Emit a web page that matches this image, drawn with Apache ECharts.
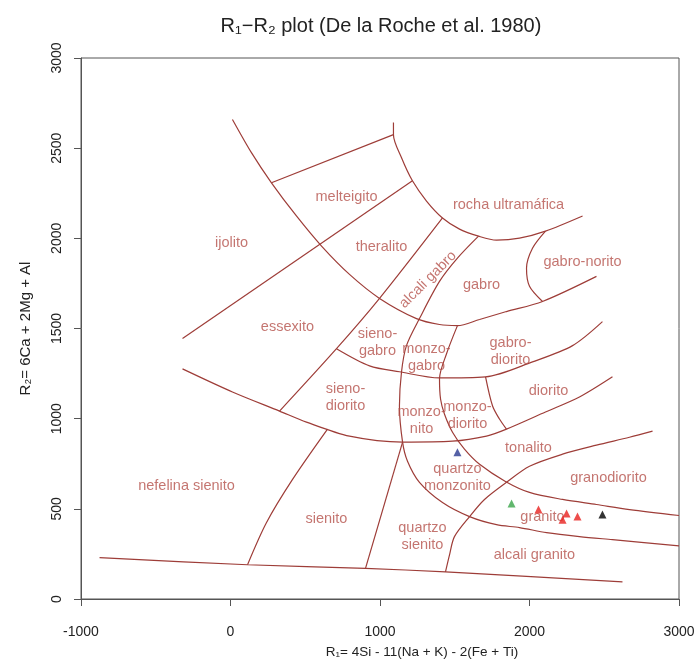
<!DOCTYPE html>
<html>
<head>
<meta charset="utf-8">
<script src="https://cdn.jsdelivr.net/npm/echarts@6/dist/echarts.min.js"></script>
<style>
  html, body { margin: 0; padding: 0; background: #fff; }
  #chart { width: 696px; height: 662px; }
</style>
</head>
<body>
<div id="chart"></div>
<script>
// ticks
var xTicks = [-1000, 0, 1000, 2000, 3000];
var yTicks = [0, 500, 1000, 1500, 2000, 2500, 3000];

// boundary lines of the diagram (R1, R2)
var curveIjolito = [[13,2659],[140,2475],[274,2308],[441,2124],[609,1957],[796,1800],[997,1667],[1244,1555],[1398,1522],[1518,1516],[1666,1550],[1846,1594],[2087,1650],[2448,1789]];
var lineMelteigito = [[274,2308],[1090,2575]];
var lineEssexito = [[-321,1444],[1217,2319]];
var curveUltramafica = [[1090,2642],[1090,2575],[1144,2447],[1217,2319],[1311,2207],[1418,2113],[1532,2051],[1659,2012],[1779,1990],[1933,2001],[2107,2040],[2355,2124]];
var lineTheralito = [[1418,2113],[997,1667],[709,1388],[328,1042]];
var curveAlcaliGabro = [[1659,2012],[1518,1890],[1398,1761],[1264,1555],[1177,1405],[1144,1260],[1130,1070],[1151,870],[1184,764],[1264,647],[1418,535],[1599,457],[1779,412],[1933,396],[2114,368],[2334,346],[2555,329],[3000,295]];
var curveGabroDiorito = [[709,1388],[930,1293],[1130,1260],[1398,1226],[1706,1232],[2020,1315],[2288,1405],[2488,1538]];
var curveMonzo = [[1518,1516],[1445,1360],[1398,1221],[1405,1109],[1431,1026],[1485,925],[1565,831],[1666,747],[1839,652],[2000,591],[2221,552],[2448,524],[2669,496],[3000,463]];
var curveDiorito = [[1706,1232],[1753,1070],[1799,998],[1846,942]];
var curveSienito = [[-321,1276],[13,1148],[328,1042],[508,981],[796,903],[1151,870],[1485,875],[1712,903],[1846,942],[2107,1037],[2334,1120],[2555,1232]];
var curveNefelina = [[649,942],[415,663],[241,424],[114,190]];
var lineBase = [[-876,229],[114,190],[903,170],[1438,150],[2622,95]];
var lineQzSienito = [[1151,870],[903,170]];
var curveGranodiorito = [[1438,150],[1465,245],[1498,346],[1599,457],[1699,552],[1846,647],[2000,736],[2221,803],[2448,853],[2669,897],[2823,931]];
var curveNorito = [[2107,2040],[2020,1945],[1980,1834],[2000,1734],[2087,1650]];

var boundaries = [curveIjolito, lineMelteigito, lineEssexito, curveUltramafica, lineTheralito,
  curveAlcaliGabro, curveGabroDiorito, curveMonzo, curveDiorito, curveSienito, curveNefelina,
  lineBase, lineQzSienito, curveGranodiorito, curveNorito];

// field names and where they sit
var fieldNames = ['melteigito', 'rocha ultramáfica', 'ijolito', 'theralito', 'alcali gabro', 'gabro',
  'gabro-norito', 'essexito', 'sieno-\ngabro', 'monzo-\ngabro', 'gabro-\ndiorito', 'sieno-\ndiorito',
  'monzo-\nnito', 'monzo-\ndiorito', 'diorito', 'tonalito', 'quartzo\nmonzonito', 'granodiorito',
  'nefelina sienito', 'sienito', 'quartzo\nsienito', 'granito', 'alcali granito'];
var fieldX = [776, 1860, 7, 1010, 1311, 1679, 2355, 381, 983, 1311, 1873, 769, 1278, 1585, 2127, 1993, 1518, 2528, -294, 642, 1284, 2087, 2033];
var fieldY = [2241, 2196, 1984, 1962, 1778, 1750, 1878, 1522, 1433, 1349, 1382, 1131, 1003, 1026, 1165, 847, 686, 680, 635, 452, 357, 468, 256];

// samples
var samplesBlue = [[1518, 814]];
var samplesGreen = [[1880, 530]];
var samplesRed = [[2060, 496], [2248, 474], [2221, 440], [2321, 457]];
var samplesBlack = [[2488, 468]];

var font = 'Liberation Sans, Arial, Helvetica, sans-serif';
var lineColor = '#9e3d38';
var textColor = '#b5524c';

var chart = echarts.init(document.getElementById('chart'));

var series = [];
boundaries.forEach(function (pts) {
  series.push({
    type: 'line',
    data: pts,
    symbol: 'none',
    smooth: pts.length > 2 ? 0.3 : false,
    smoothMonotone: 'none',
    lineStyle: { color: lineColor, width: 1.2 },
    silent: true,
    z: 2
  });
});

series.push({
  type: 'scatter',
  symbolSize: 1,
  itemStyle: { color: 'rgba(0,0,0,0)' },
  silent: true,
  z: 3,
  data: fieldNames.map(function (n, i) {
    return {
      value: [fieldX[i], fieldY[i]],
      name: n,
      label: n === 'alcali gabro' ? { rotate: 45 } : {}
    };
  }),
  label: {
    show: true,
    position: 'inside',
    offset: [0, 2],
    formatter: '{b}',
    color: textColor,
    fontFamily: font,
    fontSize: 14.5,
    lineHeight: 17
  }
});

function sampleSeries(pts, color) {
  return {
    type: 'scatter',
    data: pts,
    symbol: 'triangle',
    symbolSize: 8,
    itemStyle: { color: color },
    silent: true,
    z: 4
  };
}
series.push(sampleSeries(samplesBlue, '#2a3990'));
series.push(sampleSeries(samplesGreen, '#3aa54a'));
series.push(sampleSeries(samplesRed, '#e8201e'));
series.push(sampleSeries(samplesBlack, '#000000'));

var option = {
  animation: false,
  backgroundColor: '#fff',
  title: {
    text: 'R₁−R₂ plot (De la Roche et al. 1980)',
    left: 376,
    top: 11,
    textAlign: 'center',
    textStyle: { fontFamily: font, fontSize: 20, fontWeight: 'normal', color: '#222' }
  },
  grid: {
    left: 81, right: 17, top: 58, bottom: 63,
    outerBoundsMode: 'none',
    containLabel: false,
    show: true, borderColor: '#555', borderWidth: 1
  },
  xAxis: {
    type: 'value',
    min: xTicks[0], max: xTicks[xTicks.length - 1], interval: 1000,
    name: 'R₁= 4Si - 11(Na + K) - 2(Fe + Ti)',
    nameLocation: 'middle', nameGap: 46,
    nameTextStyle: { fontFamily: font, fontSize: 13.5, color: '#222', padding: [0, 0, 0, 84] },
    axisLine: { onZero: false, lineStyle: { color: '#555', width: 1 } },
    axisTick: { inside: false, length: 7, lineStyle: { color: '#555' } },
    axisLabel: { margin: 26, fontFamily: font, fontSize: 14, color: '#222', formatter: function (v) { return String(v); } },
    splitLine: { show: false }
  },
  yAxis: {
    type: 'value',
    min: yTicks[0], max: yTicks[yTicks.length - 1], interval: 500,
    name: 'R₂= 6Ca + 2Mg + Al',
    nameLocation: 'middle', nameGap: 48, nameRotate: 90,
    nameTextStyle: { fontFamily: font, fontSize: 15, color: '#222' },
    axisLine: { onZero: false, lineStyle: { color: '#555', width: 1 } },
    axisTick: { inside: false, length: 7, lineStyle: { color: '#555' } },
    axisLabel: { rotate: 90, margin: 17, fontFamily: font, fontSize: 14, color: '#222', formatter: function (v) { return String(v); } },
    splitLine: { show: false }
  },
  series: series
};

chart.setOption(option);
</script>
</body>
</html>
